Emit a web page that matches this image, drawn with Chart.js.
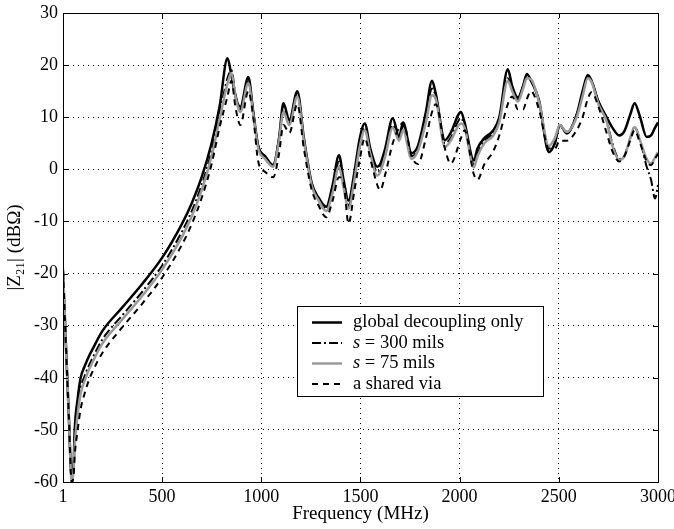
<!DOCTYPE html>
<html>
<head>
<meta charset="utf-8">
<script src="https://cdn.jsdelivr.net/npm/chart.js@4"></script>
<style>
  html, body { margin: 0; padding: 0; background: #fff; }
  #wrap { width: 674px; height: 529px; }
</style>
</head>
<body>
<div id="wrap"><canvas id="z21Chart" width="674" height="529"></canvas></div>
<script>
// frequency samples (MHz)
const freq = [1, 15, 30, 45, 55, 60, 75, 90, 110, 130, 150, 200, 300, 400, 500, 600, 650, 700, 750, 790,
  830, 850, 870, 895, 935, 960, 985, 1020, 1060, 1090, 1112, 1142, 1182, 1215, 1255, 1290, 1328, 1360, 1392, 1415,
  1440, 1470, 1495, 1522, 1550, 1585, 1600, 1625, 1663, 1695, 1715, 1758, 1790, 1830, 1861, 1880, 1926, 1955, 2007, 2025,
  2072, 2090, 2125, 2170, 2200, 2243, 2265, 2294, 2320, 2339, 2360, 2400, 2450, 2480, 2505, 2540, 2590, 2620, 2646, 2665,
  2700, 2741, 2770, 2805, 2830, 2860, 2882, 2910, 2943, 2965, 2985, 3000];

// |Z21| in dBOhm
const globalOnly = [-19.5, -33, -47, -59.5, -56, -50, -44, -40, -37.8, -36, -34.5, -31, -26.5, -22, -17, -10.5, -6.5, -1.5, 5, 12,
  21.3, 18, 14, 12, 17.7, 11, 4.5, 2.5, 0.8, 6, 12.7, 9.4, 15, 6, -2.7, -5.5, -7.2, -3, 2.7, -2,
  -6, -0.5, 5.6, 8.8, 4, 0.5, 1, 4, 9.8, 6.2, 9, 3.1, 4.5, 11, 17, 14.5, 5.6, 7, 11, 9,
  1.7, 4, 6, 7.5, 10, 19.2, 16, 13.8, 16, 18.3, 17, 13.3, 3.3, 5, 8.5, 6.9, 10.5, 15, 18.1, 17,
  13, 10, 8, 6.5, 7.3, 10.5, 12.7, 10, 6.2, 6.5, 8, 9];
const s300 = [-19.5, -33, -47, -59.5, -57, -52, -46, -42, -39.7, -37.8, -36.2, -32.6, -28, -23.5, -18.5, -12, -8, -3, 3.5, 10.5,
  17.5, 19, 14.5, 11.5, 17, 11, 4.5, 2.5, 0.8, 6, 12, 9, 14.5, 6, -3, -5.8, -7.5, -4, 1.5, -3,
  -7, -1.5, 4.5, 8, 3.5, -0.5, 0, 3, 8.5, 6, 8.5, 2.5, 4, 10, 15.5, 14, 5, 6, 9.8, 8.5,
  1, 3, 5.5, 7, 9.5, 17.5, 15.5, 13.5, 16, 17.8, 17, 13, 3.5, 5, 8.5, 7, 10.5, 14.5, 17.8, 17,
  13, 9.5, 5, 2, 2.5, 6, 8.1, 5.5, 0.5, -2, -5.6, -3];
const s75 = [-19, -33, -47, -60, -57.5, -53, -47, -43, -40.6, -38.6, -37, -33.4, -28.8, -24.3, -19.3, -13, -9, -4, 2.5, 9.5,
  16.5, 18.5, 14, 11, 16.5, 10.5, 4, 2, 0.5, 5.5, 11, 8.5, 14, 5.5, -3.2, -6, -8, -4.5, 0.5, -3.5,
  -7.5, -2, 4, 7.5, 3, -1.2, -0.5, 2.5, 8, 5.5, 7.5, 2, 3.5, 9, 14.2, 13.5, 4.3, 5.5, 8.8, 8,
  0.4, 2.5, 5, 6.5, 9, 17, 15, 13, 15.5, 17.5, 17.3, 13, 4.5, 6, 8.5, 7.2, 10, 14, 17.5, 16.8,
  12.5, 9.2, 4.5, 1.8, 2.5, 6, 8.1, 5.5, 2, 1.1, 2.3, 3.3];
const sharedVia = [-19.5, -33, -47, -60, -58.5, -55, -50, -46, -43, -40.6, -38.8, -35.2, -30.3, -25.8, -20.8, -14.5, -10.5, -5.5, 1, 8,
  14, 17, 12, 8.5, 15, 10, 1.5, -0.5, -1.5, 3, 8.5, 7, 12.5, 4, -4, -7, -9.2, -6, -1.5, -2.5,
  -10.4, -4, 1.5, 6, 2, -3, -4, -1, 5, 8, 9, 2.5, 1, 6, 11, 12.5, 4, 1.1, 6, 7.5,
  -1, -2, 1, 3.5, 6.5, 12.5, 14, 11.5, 11.5, 13.5, 15, 11.5, 4, 4, 5.5, 5.5, 7.5, 10, 13.5, 14.8,
  12, 7, 3.5, 1.5, 2.5, 5.5, 7.5, 5, 1.5, 0.8, 2, 3];

const xTicks = [1, 500, 1000, 1500, 2000, 2500, 3000];
const yTicks = [-60, -50, -40, -30, -20, -10, 0, 10, 20, 30];

const seriesNames = ['global decoupling only', 's = 300 mils', 's = 75 mils', 'a shared via'];

const pts = arr => arr.map((v, i) => ({ x: freq[i], y: v }));

const serif = "'Liberation Serif', 'Times New Roman', serif";

// frame, inner ticks and the boxed legend, like the original matlab figure
const framePlugin = {
  id: 'frame',
  afterDraw(chart) {
    const { ctx, chartArea: a, scales } = chart;
    ctx.save();
    ctx.strokeStyle = '#000';
    ctx.lineWidth = 1;
    ctx.strokeRect(a.left + 0.5, a.top + 0.5, a.right - a.left, a.bottom - a.top);
    ctx.beginPath();
    xTicks.forEach(t => {
      const px = Math.round(scales.x.getPixelForValue(t)) + 0.5;
      ctx.moveTo(px, a.bottom); ctx.lineTo(px, a.bottom - 5);
      ctx.moveTo(px, a.top); ctx.lineTo(px, a.top + 5);
    });
    yTicks.forEach(t => {
      const py = Math.round(scales.y.getPixelForValue(t)) + 0.5;
      ctx.moveTo(a.left, py); ctx.lineTo(a.left + 5, py);
      ctx.moveTo(a.right, py); ctx.lineTo(a.right - 5, py);
    });
    ctx.stroke();

    // legend box
    const bx = 297, by = 306, bw = 246, bh = 90;
    ctx.fillStyle = '#fff';
    ctx.fillRect(bx, by, bw, bh);
    ctx.strokeRect(bx + 0.5, by + 0.5, bw, bh);
    chart.data.datasets.forEach((ds, i) => {
      const cy = by + 16.5 + i * 20.5;
      ctx.save();
      ctx.strokeStyle = ds.borderColor;
      ctx.lineWidth = ds.borderWidth;
      ctx.setLineDash(ds.borderDash || []);
      ctx.beginPath();
      ctx.moveTo(bx + 15, cy); ctx.lineTo(bx + 45, cy);
      ctx.stroke();
      ctx.restore();
      ctx.fillStyle = '#000';
      ctx.textBaseline = 'middle';
      const tx = bx + 56;
      const name = seriesNames[i];
      if (name.startsWith('s = ')) {
        ctx.font = 'italic 18.5px ' + serif;
        ctx.fillText('s', tx, cy);
        const w = ctx.measureText('s').width;
        ctx.font = '18.5px ' + serif;
        ctx.fillText(name.slice(1), tx + w, cy);
      } else {
        ctx.font = '18.5px ' + serif;
        ctx.fillText(name, tx, cy);
      }
    });
    ctx.restore();
  }
};

const ctx = document.getElementById('z21Chart').getContext('2d');
new Chart(ctx, {
  type: 'line',
  data: {
    datasets: [
      { label: seriesNames[0], data: pts(globalOnly), borderColor: '#000', borderWidth: 2.5, order: 3 },
      { label: seriesNames[1], data: pts(s300), borderColor: '#000', borderWidth: 2, borderDash: [9, 3, 2, 3], order: 2 },
      { label: seriesNames[2], data: pts(s75), borderColor: '#9a9a9a', borderWidth: 2.5, order: 1 },
      { label: seriesNames[3], data: pts(sharedVia), borderColor: '#000', borderWidth: 2, borderDash: [6, 5], order: 0 }
    ]
  },
  options: {
    responsive: false,
    animation: false,
    devicePixelRatio: 1,
    layout: { padding: { left: 0, right: 16, top: 13, bottom: 0 } },
    elements: {
      point: { radius: 0 },
      line: { cubicInterpolationMode: 'monotone', fill: false }
    },
    plugins: {
      legend: { display: false },
      tooltip: { enabled: false }
    },
    scales: {
      x: {
        type: 'linear',
        min: 1,
        max: 3000,
        afterBuildTicks: s => { s.ticks = xTicks.map(v => ({ value: v })); },
        afterFit: s => { s.height = 47; s.paddingLeft = 0; s.paddingRight = 0; },
        ticks: { color: '#000', font: { family: serif, size: 18 }, maxRotation: 0, padding: 4, callback: v => String(v) },
        grid: { color: '#000', lineWidth: 1, drawTicks: false },
        border: { display: false, dash: [1, 4] },
        title: { display: true, text: 'Frequency (MHz)', color: '#000', font: { family: serif, size: 19 }, padding: { top: 0 } }
      },
      y: {
        min: -60,
        max: 30,
        afterBuildTicks: s => { s.ticks = yTicks.map(v => ({ value: v })); },
        afterFit: s => { s.width = 63; s.paddingTop = 0; s.paddingBottom = 0; },
        ticks: { color: '#000', font: { family: serif, size: 18 }, padding: 5, callback: v => String(v) },
        grid: { color: '#000', lineWidth: 1, drawTicks: false },
        border: { display: false, dash: [1, 4] },
        title: { display: true, text: '|Z₂₁| (dBΩ)', color: '#000', font: { family: serif, size: 19 }, padding: { bottom: 0 } }
      }
    }
  },
  plugins: [framePlugin]
});
</script>
</body>
</html>
